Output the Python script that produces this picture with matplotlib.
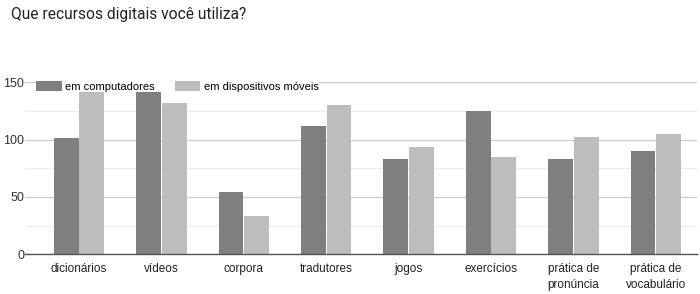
import numpy as np
import matplotlib
matplotlib.use('Agg')
import matplotlib.pyplot as plt
from matplotlib.patches import Patch

# ---- data ----
categories = ['dicionários', 'vídeos', 'corpora', 'tradutores', 'jogos',
              'exercícios', 'prática de\npronúncia', 'prática de\nvocabulário']
computadores = [101, 143, 54, 112, 83, 125, 83, 90]
moveis = [145, 132, 33, 130, 94, 85, 102, 105]
series_names = ['em computadores', 'em dispositivos móveis']

DARK, LIGHT = '#7f7f7f', '#bdbdbd'
plt.rcParams['font.family'] = ['Liberation Sans', 'DejaVu Sans']

W, H = 700, 294
fig = plt.figure(figsize=(W / 100, H / 100), dpi=100)
# axes placed in pixel coords: y0 at 254.3px, y150 at 82.3px
x_left, x_right = 25.4, 697
ax = fig.add_axes([x_left / W, (H - 254.3) / H, (x_right - x_left) / W, (254.3 - 82.3) / H])

x = np.arange(len(categories))
bw = 0.30
ax.bar(x - 0.155, computadores, bw, color=DARK, zorder=3)
ax.bar(x + 0.155, moveis, bw, color=LIGHT, zorder=3)

ax.set_xlim(-0.65, len(categories) - 0.5)
ax.set_ylim(0, 150)
ax.set_yticks([0, 50, 100, 150])
ax.set_yticks([25, 75, 125], minor=True)
ax.grid(axis='y', which='major', color='#cccccc', lw=0.9, zorder=0)
ax.grid(axis='y', which='minor', color='#ececec', lw=0.9, zorder=0)
ax.tick_params(axis='y', which='both', length=0, labelsize=9, colors='#333333', pad=1)
ax.set_xticks(x)
ax.set_xticklabels(categories, fontsize=8.5, color='#222222', linespacing=1.45)
ax.tick_params(axis='x', length=0, pad=6)
for s in ['top', 'right', 'left']:
    ax.spines[s].set_visible(False)
ax.spines['bottom'].set_color('#555555')
ax.spines['bottom'].set_linewidth(1.0)
ax.spines['bottom'].set_zorder(4)

handles = [Patch(facecolor=DARK), Patch(facecolor=LIGHT)]
leg = ax.legend(handles, series_names, loc='upper left', bbox_to_anchor=(11 / (x_right - x_left), 1.005),
                ncol=2, frameon=True, fontsize=8, handlelength=2.3, handleheight=0.9,
                handletextpad=0.3, columnspacing=1.8, borderpad=0.0, borderaxespad=0)
leg.get_frame().set_edgecolor('none')
leg.get_frame().set_facecolor('white')
leg.get_frame().set_alpha(1)
leg.set_zorder(5)

fig.text(11 / W, 1 - 15 / H, 'Que recursos digitais você utiliza?', fontsize=11.2,
         color='#222222', va='center', ha='left', family=['Roboto', 'DejaVu Sans'])

fig.savefig('out.png', dpi=100)
